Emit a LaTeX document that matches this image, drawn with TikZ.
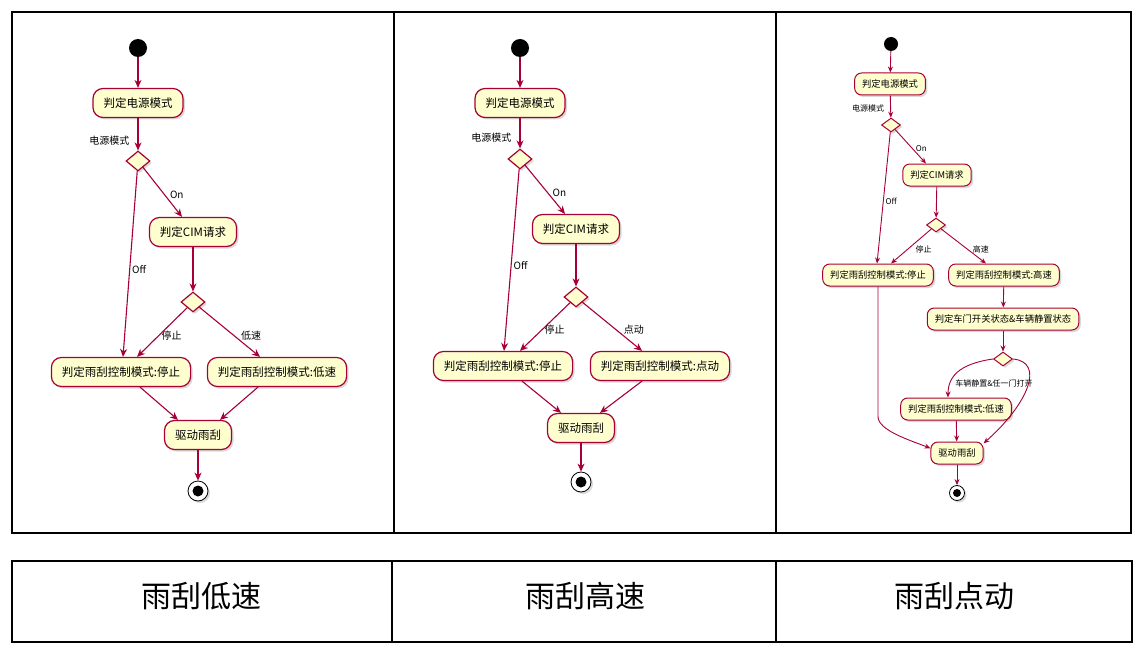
\documentclass[tikz,border=0pt]{standalone}
\usepackage{fontspec}
\setmainfont{Noto Sans CJK SC}
\usepackage{tikz}
\usetikzlibrary{shapes.geometric,arrows.meta,shadows}
\definecolor{umlRed}{HTML}{A80036}
\definecolor{umlFill}{HTML}{FEFECE}

\begin{document}
\begin{tikzpicture}[x=1pt,y=-1pt,
  act/.style={draw=umlRed,fill=umlFill,line width=1.2pt,rounded corners=10pt,minimum height=29pt,inner xsep=10.5pt,
    font=\fontsize{11.5}{12}\selectfont,drop shadow={opacity=0.3,shadow xshift=2pt,shadow yshift=-2pt}},
  actS/.style={act,line width=1pt,rounded corners=7pt,minimum height=22pt,inner xsep=7.5pt,font=\fontsize{9.3}{10}\selectfont},
  choice/.style={diamond,draw=umlRed,fill=umlFill,line width=1.2pt,inner sep=0pt,minimum width=24pt,minimum height=20pt,
    drop shadow={opacity=0.3,shadow xshift=2pt,shadow yshift=-2pt}},
  choiceS/.style={choice,line width=1pt,minimum width=19pt,minimum height=14pt},
  startnode/.style={circle,fill=black,inner sep=0pt,minimum size=18pt},
  startS/.style={startnode,minimum size=14pt},
  stopnode/.style={circle,draw=black,fill=white,line width=0.8pt,inner sep=0pt,minimum size=20pt,
    drop shadow={opacity=0.3,shadow xshift=2pt,shadow yshift=-2pt},
    path picture={\fill[black] (path picture bounding box.center) circle (5.5pt);}},
  stopS/.style={stopnode,minimum size=15pt,path picture={\fill[black] (path picture bounding box.center) circle (4pt);}},
  flow/.style={draw=umlRed,line width=1.1pt,-{Stealth[length=8pt,width=7pt,inset=2.5pt]}},
  flowS/.style={flow,line width=0.9pt,-{Stealth[length=6pt,width=5pt,inset=2pt]}},
  lbl/.style={font=\fontsize{10}{11}\selectfont,inner sep=1pt},
  lblS/.style={font=\fontsize{8}{9}\selectfont,inner sep=1pt},
  title/.style={font=\fontsize{30}{31}\selectfont}]
  \useasboundingbox (0,0) rectangle (1145,650);
  % frames
  \draw[line width=1.5pt] (12,12) rectangle (1131,533);
  \draw[line width=1.5pt] (394,12) -- (394,533);
  \draw[line width=1.5pt] (776,12) -- (776,533);
  \draw[line width=1.5pt] (12,561) rectangle (1132,642);
  \draw[line width=1.5pt] (392,561) -- (392,642);
  \draw[line width=1.5pt] (776,561) -- (776,642);
  \node[title] (t1) at (201,596) {雨刮低速};
  \node[title] (t2) at (585,596) {雨刮高速};
  \node[title] (t3) at (954,596) {雨刮点动};

  % panel 1
  \node[startnode] (s1) at (138,48) {};
  \node[act] (p1) at (138,103) {判定电源模式};
  \node[choice] (d1) at (138,161) {};
  \node[act] (c1) at (193,232) {判定CIM请求};
  \node[choice] (e1) at (193,302) {};
  \node[act] (a1) at (121,372) {判定雨刮控制模式:停止};
  \node[act] (b1) at (277,372) {判定雨刮控制模式:低速};
  \node[act] (w1) at (198,435) {驱动雨刮};
  \node[stopnode] (f1) at (198,491) {};
  \draw[flow] (s1) -- (p1);
  \draw[flow] (p1) -- node[lbl,left=7pt,yshift=-6pt] {电源模式} (d1);
  \draw[flow] (d1) -- node[lbl,right=6pt,yshift=-3pt] {On} ([xshift=-11pt]c1.north);
  \draw[flow] (d1) -- node[lbl,pos=0.53,right=1pt] {Off} ([xshift=2pt]a1.north);
  \draw[flow] (c1) -- (e1);
  \draw[flow] (e1) -- node[lbl,right=-2pt,yshift=-3pt] {停止} ([xshift=16pt]a1.north);
  \draw[flow] (e1) -- node[lbl,right=10pt,yshift=-4pt] {低速} ([xshift=-17pt]b1.north);
  \draw[flow] ([xshift=19pt]a1.south) -- ([xshift=-20pt]w1.north);
  \draw[flow] ([xshift=-19pt]b1.south) -- ([xshift=22pt]w1.north);
  \draw[flow] (w1) -- (f1);

  % panel 2
  \node[startnode] (s2) at (520,48) {};
  \node[act] (p2) at (520,103) {判定电源模式};
  \node[choice] (d2) at (520,159) {};
  \node[act] (c2) at (576,229) {判定CIM请求};
  \node[choice] (e2) at (576,297) {};
  \node[act] (a2) at (503,366) {判定雨刮控制模式:停止};
  \node[act] (b2) at (660,366) {判定雨刮控制模式:点动};
  \node[act] (w2) at (581,428) {驱动雨刮};
  \node[stopnode] (f2) at (581,482) {};
  \draw[flow] (s2) -- (p2);
  \draw[flow] (p2) -- node[lbl,left=7pt,yshift=-4pt] {电源模式} (d2);
  \draw[flow] (d2) -- node[lbl,right=6pt,yshift=-3pt] {On} ([xshift=-11pt]c2.north);
  \draw[flow] (d2) -- node[lbl,pos=0.53,right=1pt] {Off} ([xshift=1pt]a2.north);
  \draw[flow] (c2) -- (e2);
  \draw[flow] (e2) -- node[lbl,right=-2pt,yshift=-3pt] {停止} ([xshift=17pt]a2.north);
  \draw[flow] (e2) -- node[lbl,right=10pt,yshift=-3pt] {点动} ([xshift=-18pt]b2.north);
  \draw[flow] ([xshift=19pt]a2.south) -- ([xshift=-20pt]w2.north);
  \draw[flow] ([xshift=-18pt]b2.south) -- ([xshift=19pt]w2.north);
  \draw[flow] (w2) -- (f2);

  % panel 3
  \node[startS] (s3) at (891,44) {};
  \node[actS] (p3) at (890,84) {判定电源模式};
  \node[choiceS] (d3) at (891,125) {};
  \node[actS] (c3) at (937,175) {判定CIM请求};
  \node[choiceS] (e3) at (936,225) {};
  \node[actS] (a3) at (878,275) {判定雨刮控制模式:停止};
  \node[actS] (b3) at (1004,275) {判定雨刮控制模式:高速};
  \node[actS] (g3) at (1003,319) {判定车门开关状态\&车辆静置状态};
  \node[choiceS] (h3) at (1003,359) {};
  \node[actS] (l3) at (956,409) {判定雨刮控制模式:低速};
  \node[actS] (w3) at (957,453) {驱动雨刮};
  \node[stopS] (f3) at (957,493) {};
  \draw[flowS] (s3) -- (p3);
  \draw[flowS] (p3) -- node[lblS,left=5pt,yshift=-2pt] {电源模式} (d3);
  \draw[flowS] (d3) -- node[lblS,right=4pt,yshift=-2pt] {On} ([xshift=-11pt]c3.north);
  \draw[flowS] (d3) -- node[lblS,pos=0.53,right=1pt] {Off} ([xshift=-1pt]a3.north);
  \draw[flowS] (c3) -- (e3);
  \draw[flowS] (e3) -- node[lblS,right=3pt,yshift=-3pt] {停止} ([xshift=13pt]a3.north);
  \draw[flowS] (e3) -- node[lblS,right=8pt,yshift=-3pt] {高速} ([xshift=-18pt]b3.north);
  \draw[flowS] (b3) -- (g3);
  \draw[flowS] (g3) -- (h3);
  \draw[flowS] (h3.west) .. controls +(-35,5) and +(0,-20) .. ([xshift=-8pt]l3.north);
  \draw[flowS] (h3.east) .. controls +(32,3) and +(45,-40) .. (w3.20);
  \node[lblS] (q3) at (994,383) {车辆静置\&任一门打开};
  \draw[flowS] (l3) -- (w3);
  \draw[flowS] (a3.south) -- ++(0,130) .. controls +(0,14) and +(-20,-8) .. (w3.170);
  \draw[flowS] (w3) -- (f3);
\end{tikzpicture}
\end{document}
